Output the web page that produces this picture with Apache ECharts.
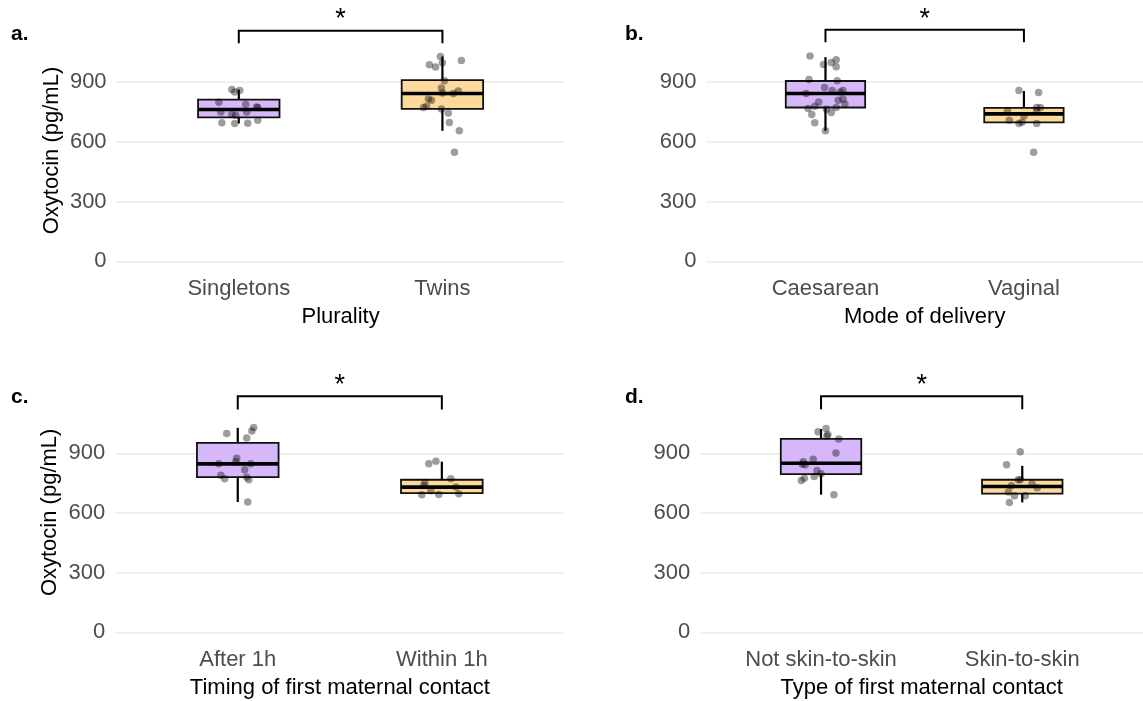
<!DOCTYPE html>
<html>
<head>
<meta charset="utf-8">
<script src="https://cdn.jsdelivr.net/npm/echarts@6/dist/echarts.min.js"></script>
<style>
  html, body { margin: 0; padding: 0; background: #fff; }
  #chart { width: 1143px; height: 701px; }
</style>
</head>
<body>
<div id="chart"></div>
<script>
// ---------- data ----------
const panelLabels = ['a.', 'b.', 'c.', 'd.'];
const xTitles = ['Plurality', 'Mode of delivery', 'Timing of first maternal contact', 'Type of first maternal contact'];
const categories = [
  ['Singletons', 'Twins'],
  ['Caesarean', 'Vaginal'],
  ['After 1h', 'Within 1h'],
  ['Not skin-to-skin', 'Skin-to-skin']
];
const yTitle = 'Oxytocin (pg/mL)';
const yTicks = [0, 300, 600, 900];
const yMaxes = [1112, 1112, 1206, 1206];

// box stats: [lower whisker, Q1, median, Q3, upper whisker]
const boxA1 = [692, 723, 762, 812, 862];
const boxA2 = [655, 765, 842, 910, 1028];
const boxB1 = [655, 772, 842, 905, 1025];
const boxB2 = [697, 697, 740, 770, 855];
const boxC1 = [655, 780, 847, 952, 1028];
const boxC2 = [697, 700, 730, 767, 858];
const boxD1 = [692, 795, 850, 972, 1022];
const boxD2 = [653, 697, 733, 767, 837];

// individual observations (values) and horizontal jitter (category units)
const ptsA1 = [862, 850, 858, 798, 788, 775, 772, 750, 750, 738, 733, 695, 692, 693, 708];
const jitA1 = [-0.034, -0.020, 0.005, -0.098, 0.034, 0.088, 0.093, -0.088, 0.039, -0.034, -0.015, -0.083, -0.020, 0.044, 0.093];
const ptsA2 = [1028, 1008, 987, 975, 997, 907, 870, 855, 842, 845, 815, 808, 778, 772, 765, 745, 697, 655, 547];
const jitA2 = [-0.010, 0.093, -0.064, -0.034, 0.000, 0.010, -0.005, 0.078, 0.054, 0.000, -0.069, -0.054, -0.078, -0.093, -0.005, 0.029, 0.034, 0.083, 0.059];
const ptsB1 = [1030, 988, 998, 1012, 977, 913, 907, 872, 858, 857, 850, 842, 800, 808, 815, 790, 778, 767, 763, 772, 747, 737, 695, 655];
const jitB1 = [-0.078, -0.010, 0.029, 0.054, 0.054, -0.083, 0.059, -0.005, 0.034, 0.088, 0.074, -0.098, -0.034, 0.064, 0.088, 0.098, -0.054, -0.088, 0.005, 0.054, 0.029, -0.069, -0.054, 0.000];
const ptsB2 = [858, 848, 772, 772, 755, 753, 730, 708, 692, 698, 692, 547];
const jitB2 = [-0.025, 0.074, 0.064, 0.083, -0.083, 0.064, 0.000, -0.074, -0.025, -0.010, 0.064, 0.049];
const ptsC1 = [1030, 1012, 1000, 977, 875, 858, 847, 847, 817, 790, 772, 780, 767, 655];
const jitC1 = [0.078, 0.069, -0.054, 0.044, -0.005, -0.010, -0.093, 0.064, 0.034, -0.083, -0.064, 0.044, 0.054, 0.049];
const ptsC2 = [847, 860, 772, 753, 738, 730, 712, 692, 693, 697];
const jitC2 = [-0.064, -0.029, 0.044, -0.083, -0.088, 0.069, -0.054, -0.098, -0.015, 0.083];
const ptsD1 = [1025, 1008, 995, 987, 972, 902, 870, 857, 842, 845, 813, 797, 783, 775, 763, 692];
const jitD1 = [0.025, -0.015, 0.034, 0.029, 0.088, 0.074, -0.039, -0.088, -0.078, -0.093, -0.020, 0.000, -0.034, -0.083, -0.098, 0.064];
const ptsD2 = [908, 843, 767, 767, 747, 737, 727, 705, 687, 687, 652];
const jitD2 = [-0.010, -0.078, -0.020, -0.010, 0.049, -0.054, 0.074, -0.069, -0.039, 0.015, -0.064];

// significance brackets: [leg bottom, bracket top, star position]
const sigA = [1095, 1158, 1212];
const sigB = [1100, 1162, 1216];
const sigC = [1120, 1187, 1240];
const sigD = [1122, 1187, 1240];
const sigLabel = '*';

// ---------- assembly ----------
const boxes = [[boxA1, boxA2], [boxB1, boxB2], [boxC1, boxC2], [boxD1, boxD2]];
const points = [[[ptsA1, jitA1], [ptsA2, jitA2]], [[ptsB1, jitB1], [ptsB2, jitB2]],
                [[ptsC1, jitC1], [ptsC2, jitC2]], [[ptsD1, jitD1], [ptsD2, jitD2]]];
const sigs = [sigA, sigB, sigC, sigD];

const fills = ['#D6B8FA', '#FDDA9C'];
const FONT = "'Liberation Sans', Arial, Helvetica, sans-serif";

// layout (pixels)
const gridRects = [
  { left: 116.6, width: 448, zeroY: 261.3, pxPerUnit: 0.1992 },
  { left: 706.4, width: 448, zeroY: 261.3, pxPerUnit: 0.1992 },
  { left: 115.3, width: 449, zeroY: 632.3, pxPerUnit: 0.1989 },
  { left: 700.3, width: 449, zeroY: 632.3, pxPerUnit: 0.1989 }
];
const titlePos = [[11, 24], [625, 24], [11, 387], [625, 387]];

const grid = [], xAxis = [], yAxis = [], series = [], title = [];

gridRects.forEach((g, i) => {
  const h = yMaxes[i] * g.pxPerUnit;
  grid.push({ left: g.left, width: g.width, top: g.zeroY - h, height: h, containLabel: false });
  xAxis.push({
    type: 'value', gridIndex: i, min: 0.4, max: 2.6,
    axisLine: { show: false }, axisTick: { show: false }, splitLine: { show: false },
    axisLabel: {
      customValues: [1, 2],
      formatter: (v) => categories[i][Math.round(v) - 1] || '',
      color: '#4D4D4D', fontSize: 22, fontFamily: FONT, margin: 17
    },
    name: xTitles[i], nameLocation: 'middle', nameGap: 45,
    nameTextStyle: { color: '#000', fontSize: 22, fontFamily: FONT }
  });
  yAxis.push({
    type: 'value', gridIndex: i, min: 0, max: yMaxes[i],
    axisLine: { show: false },
    axisTick: { show: false, customValues: yTicks },
    axisLabel: { customValues: yTicks, color: '#4D4D4D', fontSize: 22, fontFamily: FONT, margin: 10 },
    splitLine: { show: true, lineStyle: { color: '#EBEBEB', width: 1.5 } },
    name: (i % 2 === 0) ? yTitle : '',
    nameLocation: 'middle', nameRotate: 90, nameGap: 54,
    nameTextStyle: { color: '#000', fontSize: 22, fontFamily: FONT }
  });
  title.push({
    text: panelLabels[i], left: titlePos[i][0], top: titlePos[i][1], padding: 0,
    textStyle: { fontSize: 21, fontWeight: 'bold', color: '#000', fontFamily: FONT }
  });

  // boxes
  const boxData = boxes[i].map((b, k) => [k + 1, b[0], b[1], b[2], b[3], b[4], k]);
  series.push({
    type: 'custom', xAxisIndex: i, yAxisIndex: i, data: boxData, z: 2,
    renderItem: (params, api) => {
      const x = api.value(0);
      const lo = api.coord([x, api.value(1)]);
      const q1 = api.coord([x, api.value(2)]);
      const md = api.coord([x, api.value(3)]);
      const q3 = api.coord([x, api.value(4)]);
      const hi = api.coord([x, api.value(5)]);
      const w = api.size([0.4, 0])[0];
      const cx = lo[0];
      return {
        type: 'group',
        children: [
          { type: 'line', shape: { x1: cx, y1: q3[1], x2: cx, y2: hi[1] }, style: { stroke: '#000', lineWidth: 2.2 } },
          { type: 'line', shape: { x1: cx, y1: q1[1], x2: cx, y2: lo[1] }, style: { stroke: '#000', lineWidth: 2.2 } },
          { type: 'rect', shape: { x: cx - w / 2, y: q3[1], width: w, height: q1[1] - q3[1] },
            style: { fill: fills[api.value(6)], stroke: '#111', lineWidth: 1.8 } },
          { type: 'line', shape: { x1: cx - w / 2, y1: md[1], x2: cx + w / 2, y2: md[1] }, style: { stroke: '#000', lineWidth: 3.6 } }
        ]
      };
    }
  });

  // jittered points
  const ptData = [];
  points[i].forEach((pj, k) => {
    pj[0].forEach((v, n) => ptData.push([k + 1 + pj[1][n], v]));
  });
  series.push({
    type: 'scatter', xAxisIndex: i, yAxisIndex: i, data: ptData, z: 3,
    symbol: 'circle', symbolSize: 7.5,
    itemStyle: { color: 'rgba(0,0,0,0.48)' },
    silent: true
  });

  // significance bracket
  const s = sigs[i];
  series.push({
    type: 'custom', xAxisIndex: i, yAxisIndex: i, data: [[1, 2, s[0], s[1], s[2]]], z: 4, clip: false,
    renderItem: (params, api) => {
      const a = api.coord([api.value(0), api.value(2)]);
      const b = api.coord([api.value(0), api.value(3)]);
      const c = api.coord([api.value(1), api.value(3)]);
      const d = api.coord([api.value(1), api.value(2)]);
      const st = api.coord([(api.value(0) + api.value(1)) / 2, api.value(4)]);
      return {
        type: 'group',
        children: [
          { type: 'polyline', shape: { points: [a, b, c, d] }, style: { stroke: '#000', lineWidth: 2, fill: null } },
          { type: 'text', x: st[0], y: st[1], style: { text: sigLabel, fontSize: 27, fontFamily: FONT, fill: '#000', align: 'center', verticalAlign: 'middle' } }
        ]
      };
    }
  });
});

const chart = echarts.init(document.getElementById('chart'), null, { renderer: 'canvas' });
chart.setOption({ animation: false, backgroundColor: '#fff', title, grid, xAxis, yAxis, series });
</script>
</body>
</html>
